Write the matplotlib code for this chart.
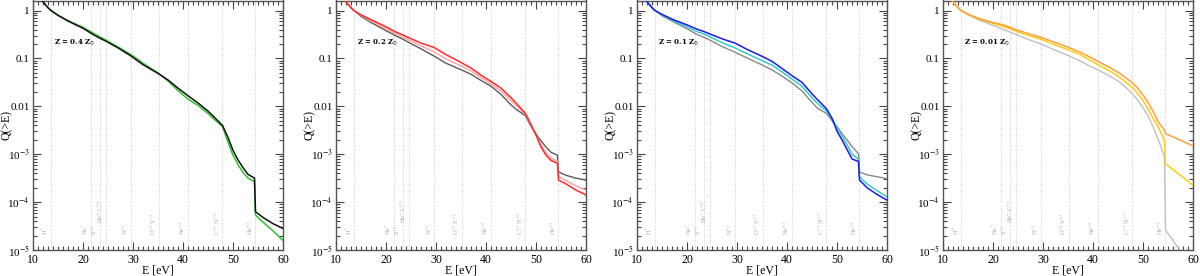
import numpy as np
import matplotlib
matplotlib.use("Agg")
import matplotlib.pyplot as plt
from matplotlib.ticker import LogLocator, MultipleLocator, NullFormatter

plt.rcParams['font.family'] = ['Liberation Serif', 'DejaVu Serif']
plt.rcParams['mathtext.fontset'] = 'stix'

energy = [10, 11, 12, 13, 13.6, 15, 17, 20, 22, 23.4, 24.6, 27, 29.6, 32, 35.1, 37, 39, 41,
          43, 45, 46, 47.9, 49, 50, 51, 52, 53, 54.3, 54.5, 56, 58, 60]

# log10 Q(>E) values
head = [0.55, 0.35, 0.18, 0.06, 0.0]

p1_black = head + [-0.10, -0.22, -0.37, -0.50, -0.58, -0.64, -0.78, -0.95, -1.13, -1.32, -1.45, -1.62, -1.78,
                   -1.93, -2.10, -2.20, -2.40, -2.65, -2.92, -3.12, -3.28, -3.42, -3.50, -4.20, -4.32, -4.45, -4.55]
p1_green = head + [-0.10, -0.21, -0.35, -0.47, -0.55, -0.62, -0.76, -0.92, -1.10, -1.31, -1.47, -1.67, -1.85,
                   -1.98, -2.15, -2.25, -2.42, -2.75, -3.02, -3.22, -3.38, -3.50, -3.57, -4.27, -4.42, -4.60, -4.80]

p2_gray = head + [-0.12, -0.25, -0.42, -0.53, -0.60, -0.67, -0.80, -0.95, -1.10, -1.24, -1.33, -1.46, -1.58,
                  -1.75, -1.97, -2.06, -2.20, -2.42, -2.58, -2.72, -2.85, -2.96, -3.02, -3.37, -3.44, -3.50, -3.54]
p2_pink = head + [-0.10, -0.22, -0.38, -0.49, -0.555, -0.62, -0.74, -0.86, -1.01, -1.16, -1.26, -1.40, -1.53,
                  -1.68, -1.88, -1.98, -2.17, -2.40, -2.60, -2.80, -2.97, -3.08, -3.14, -3.47, -3.55, -3.66, -3.75]
p2_red = head + [-0.09, -0.19, -0.34, -0.45, -0.51, -0.57, -0.68, -0.77, -0.92, -1.09, -1.20, -1.35, -1.48,
                 -1.62, -1.82, -1.93, -2.15, -2.38, -2.60, -2.85, -3.02, -3.13, -3.19, -3.54, -3.62, -3.75, -3.85]

p3_gray = head + [-0.11, -0.22, -0.38, -0.50, -0.56, -0.62, -0.75, -0.87, -0.99, -1.14, -1.24, -1.37, -1.51,
                  -1.68, -1.92, -2.03, -2.15, -2.30, -2.42, -2.57, -2.70, -2.84, -2.99, -3.37, -3.43, -3.47, -3.51]
p3_cyan = head + [-0.09, -0.20, -0.34, -0.44, -0.49, -0.55, -0.67, -0.78, -0.90, -1.05, -1.14, -1.28, -1.43,
                  -1.58, -1.82, -1.93, -2.10, -2.25, -2.45, -2.62, -2.80, -3.00, -3.10, -3.47, -3.62, -3.76, -3.89]
p3_blue = head + [-0.08, -0.18, -0.30, -0.39, -0.44, -0.49, -0.59, -0.68, -0.81, -0.96, -1.06, -1.21, -1.36,
                  -1.50, -1.74, -1.85, -2.05, -2.25, -2.52, -2.70, -2.90, -3.10, -3.15, -3.54, -3.70, -3.84, -3.96]

p4_gray = head + [-0.09, -0.19, -0.31, -0.39, -0.45, -0.50, -0.60, -0.70, -0.81, -0.94, -1.03, -1.14, -1.24,
                  -1.35, -1.47, -1.55, -1.74, -1.88, -2.03, -2.20, -2.42, -2.68, -3.05, -4.58, -4.80, -5.09, -5.38]
p4_gold = head + [-0.08, -0.17, -0.27, -0.33, -0.38, -0.43, -0.52, -0.60, -0.70, -0.82, -0.90, -1.01, -1.13,
                  -1.24, -1.37, -1.45, -1.61, -1.74, -1.88, -2.05, -2.25, -2.42, -2.72, -3.20, -3.32, -3.48, -3.65]
p4_orange = head + [-0.075, -0.16, -0.25, -0.30, -0.35, -0.40, -0.48, -0.56, -0.65, -0.77, -0.85, -0.95, -1.06,
                    -1.17, -1.29, -1.36, -1.51, -1.63, -1.76, -1.92, -2.10, -2.32, -2.50, -2.57, -2.64, -2.73, -2.83]

edges = [13.6, 21.56, 23.33, 24.59, 29.6, 35.12, 40.96, 47.89, 54.42]
edge_labels = [r'H$^{+}$', r'Ne$^{+}$', r'S$^{+2}$', r'He$^{+}$ C$^{+2}$', r'N$^{+2}$',
               r'O$^{+2}$ S$^{+3}$', r'Ne$^{+2}$', r'C$^{+3}$ N$^{+3}$', r'He$^{+2}$']
edge_label_y = [2.05e-5, 2.05e-5, 2.05e-5, 3.6e-5, 2.05e-5, 2.05e-5, 2.05e-5, 2.05e-5, 2.05e-5]

panel_labels = [r'Z = 0.4 Z$_{\odot}$', r'Z = 0.2 Z$_{\odot}$', r'Z = 0.1 Z$_{\odot}$', r'Z = 0.01 Z$_{\odot}$']

panels = [
    [(p1_green, '#2ec02e', 1.1), (p1_black, '#111111', 1.1)],
    [(p2_gray, '#5a5a5a', 1.0), (p2_pink, '#ffa0a0', 1.0), (p2_red, '#ff2a2a', 1.1)],
    [(p3_gray, '#888888', 1.0), (p3_cyan, '#33cccc', 1.1), (p3_blue, '#1a1aee', 1.1)],
    [(p4_gray, '#c0c0c0', 1.0), (p4_gold, '#ffcc11', 1.1), (p4_orange, '#ffa040', 1.1)],
]

fig = plt.figure(figsize=(12, 2.76), dpi=100)
lefts = [33, 336, 637, 943]
for i, left in enumerate(lefts):
    ax = fig.add_axes([left / 1200, 26 / 276, 250 / 1200, 249.5 / 276])
    for x in edges:
        ax.axvline(x, color='#cccccc', lw=0.7, ls=(0, (1, 1.5)), zorder=1)
    for x, lab, yy in zip(edges, edge_labels, edge_label_y):
        ax.text(x - 0.1, yy, lab, rotation=90, ha='right', va='bottom',
                fontsize=4.6, color='#aaaaaa')
    for vals, col, lw in panels[i]:
        ax.plot(energy, 10 ** np.array(vals), color=col, lw=lw, zorder=3)
    ax.text(14.2, 0.21, panel_labels[i], fontsize=5, fontweight='bold', va='center', ha='left',
            family=['DejaVu Serif'])
    ax.set_yscale('log')
    ax.set_xlim(10, 60)
    ax.set_ylim(1e-5, 1.62)
    ax.set_yticks([1e-5, 1e-4, 1e-3, 0.01, 0.1, 1])
    ax.set_yticklabels([r'10$^{-5}$', r'10$^{-4}$', r'10$^{-3}$', '0.01', '0.1', '1'])
    ax.yaxis.set_minor_locator(LogLocator(base=10, subs=np.arange(2, 10), numticks=20))
    ax.yaxis.set_minor_formatter(NullFormatter())
    ax.xaxis.set_major_locator(MultipleLocator(10))
    ax.xaxis.set_minor_locator(MultipleLocator(1))
    ax.tick_params(which='both', direction='in', top=True, right=True, colors='#444444',
                   labelcolor='black', width=0.8)
    ax.tick_params(axis='x', which='major', labelsize=8.5, pad=3)
    ax.tick_params(axis='y', which='major', labelsize=8, pad=2.5)
    ax.tick_params(which='major', length=6)
    ax.tick_params(which='minor', length=3)
    for s in ax.spines.values():
        s.set_color('#555555')
        s.set_linewidth(1.0)
    ax.set_xlabel('E [eV]', fontsize=8.5)
    ax.xaxis.set_label_coords(0.5, -0.06)
    ax.set_ylabel('Q(>E)', fontsize=8.5)
    ax.yaxis.set_label_coords(-0.08, 0.5)

fig.savefig('out.png', dpi=100)
